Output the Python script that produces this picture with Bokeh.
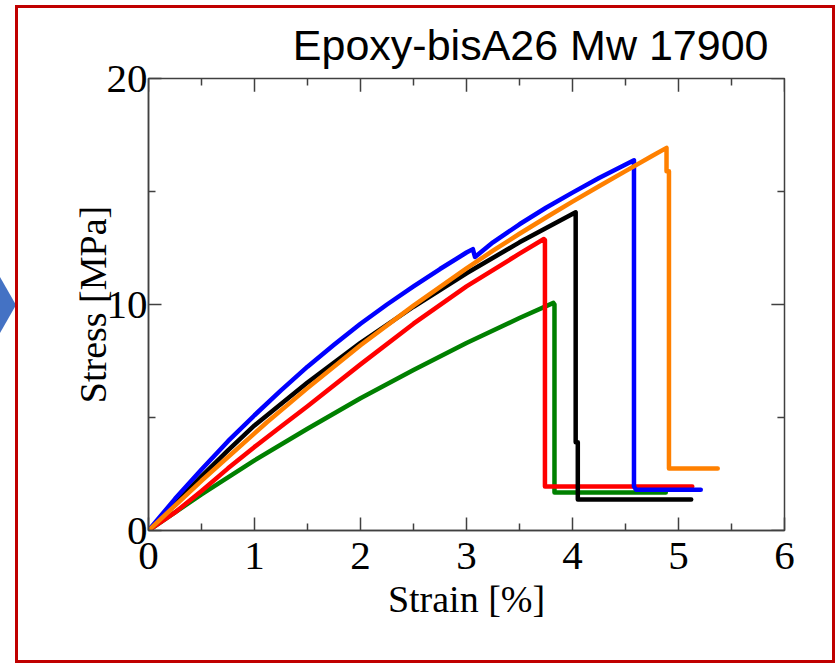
from bokeh.plotting import figure
from bokeh.models import FixedTicker, Range1d, Div
from bokeh.layouts import row
from bokeh.embed import file_html
from bokeh.resources import INLINE

# ---------------- data ----------------
title_text = "Epoxy-bisA26 Mw 17900"
x_label = "Strain [%]"
y_label = "Stress [MPa]"
x_ticks = [0, 1, 2, 3, 4, 5, 6]
x_minor = [0.5, 1.5, 2.5, 3.5, 4.5, 5.5]
y_ticks = [0, 10, 20]
y_minor = [5, 15]

green_x = [0, 0.5, 1.0, 1.5, 2.0, 2.5, 3.0, 3.5, 3.82, 3.83, 3.83, 4.88]
green_y = [0, 1.6, 3.1, 4.5, 5.85, 7.1, 8.3, 9.4, 10.07, 10.0, 1.68, 1.68]

red_x = [0, 0.25, 0.5, 0.75, 1.0, 1.25, 1.5, 2.0, 2.5, 3.0, 3.5, 3.73, 3.74, 3.74, 5.13]
red_y = [0, 0.8, 1.75, 2.75, 3.7, 4.6, 5.5, 7.35, 9.15, 10.8, 12.25, 12.9, 12.85, 1.95, 1.95]

black_x = [0, 0.25, 0.5, 0.75, 1.0, 1.5, 2.0, 2.5, 3.0, 3.5, 4.03, 4.03, 4.05, 4.05, 5.12]
black_y = [0, 1.2, 2.4, 3.55, 4.65, 6.55, 8.3, 9.9, 11.38, 12.75, 14.08, 3.9, 3.9, 1.37, 1.37]

blue_x = [0, 0.25, 0.5, 0.75, 1.0, 1.25, 1.5, 1.75, 2.0, 2.25, 2.5, 2.75, 3.0, 3.06,
          3.08, 3.25, 3.5, 3.75, 4.0, 4.25, 4.58, 4.58, 4.6, 5.21]
blue_y = [0, 1.4, 2.7, 3.95, 5.1, 6.2, 7.25, 8.22, 9.15, 10.0, 10.8, 11.57, 12.3, 12.45,
          12.1, 12.75, 13.55, 14.28, 14.95, 15.6, 16.38, 1.95, 1.8, 1.8]

orange_x = [0, 0.5, 1.0, 1.12, 1.5, 2.0, 2.5, 3.0, 3.25, 3.5, 3.75, 4.0, 4.25, 4.5, 4.75,
            4.887, 4.887, 4.91, 4.91, 5.37]
orange_y = [0, 2.2, 4.3, 4.8, 6.3, 8.2, 9.95, 11.6, 12.38, 13.13, 13.85, 14.55, 15.23, 15.9, 16.57,
            16.93, 15.9, 15.9, 2.74, 2.74]

series = [
    (green_x, green_y, "#008000"),
    (red_x, red_y, "#ff0000"),
    (black_x, black_y, "#000000"),
    (blue_x, blue_y, "#0000ff"),
    (orange_x, orange_y, "#ff8000"),
]

# ---------------- figure ----------------
CANVAS_W, CANVAS_H = 814, 650
FRAME_L, FRAME_T, FRAME_W, FRAME_H = 130, 68, 630, 446
X0, X1, Y0, Y1 = 0, 6, 0, 20
AXIS_COLOR = "#404040"

p = figure(frame_width=FRAME_W, frame_height=FRAME_H,
           min_border_left=FRAME_L, min_border_right=CANVAS_W - FRAME_L - FRAME_W,
           min_border_top=FRAME_T, min_border_bottom=CANVAS_H - FRAME_T - FRAME_H,
           x_range=Range1d(X0, X1), y_range=Range1d(Y0, Y1),
           output_backend="svg", toolbar_location=None)
p.background_fill_color = "white"
p.border_fill_color = "white"
p.grid.visible = False
p.outline_line_color = AXIS_COLOR
p.outline_line_width = 1.5
p.margin = (5, 0, 0, 0)
p.styles = {"border": "3px solid #c00000"}

# title (top right, above the frame)
p.title.text = title_text
p.title.align = "right"
p.title.offset = 16
p.title.text_font = "Liberation Sans"
p.title.text_font_size = "43px"
p.title.text_font_style = "normal"
p.title.text_color = "black"
p.title.standoff = 20


def style_axis(ax, ticks, minor):
    ax.ticker = FixedTicker(ticks=ticks, minor_ticks=minor)
    ax.axis_line_color = AXIS_COLOR
    ax.axis_line_width = 1.5
    ax.major_tick_in = 13
    ax.major_tick_out = 0
    ax.minor_tick_in = 7
    ax.minor_tick_out = 0
    ax.major_tick_line_color = AXIS_COLOR
    ax.minor_tick_line_color = AXIS_COLOR
    ax.major_tick_line_width = 1.5
    ax.minor_tick_line_width = 1.5
    ax.major_label_text_font = "Liberation Serif"
    ax.major_label_text_font_size = "41px"
    ax.major_label_text_color = "black"
    ax.axis_label_text_font = "Liberation Serif"
    ax.axis_label_text_font_size = "38px"
    ax.axis_label_text_font_style = "normal"
    ax.axis_label_text_color = "black"


style_axis(p.xaxis[0], x_ticks, x_minor)
style_axis(p.yaxis[0], y_ticks, y_minor)
p.xaxis[0].axis_label = x_label
p.yaxis[0].axis_label = y_label
p.xaxis[0].major_label_standoff = 12
p.xaxis[0].axis_label_standoff = 6
p.yaxis[0].major_label_standoff = 1
p.yaxis[0].axis_label_standoff = -10

# mirrored inside ticks on top and right edges
maj_dy = 13 * (Y1 - Y0) / FRAME_H
min_dy = 7 * (Y1 - Y0) / FRAME_H
maj_dx = 13 * (X1 - X0) / FRAME_W
min_dx = 7 * (X1 - X0) / FRAME_W
p.segment(x0=x_ticks, x1=x_ticks, y0=[Y1] * len(x_ticks), y1=[Y1 - maj_dy] * len(x_ticks),
          line_color=AXIS_COLOR, line_width=1.5)
p.segment(x0=x_minor, x1=x_minor, y0=[Y1] * len(x_minor), y1=[Y1 - min_dy] * len(x_minor),
          line_color=AXIS_COLOR, line_width=1.5)
p.segment(x0=[X1] * len(y_ticks), x1=[X1 - maj_dx] * len(y_ticks), y0=y_ticks, y1=y_ticks,
          line_color=AXIS_COLOR, line_width=1.5)
p.segment(x0=[X1] * len(y_minor), x1=[X1 - min_dx] * len(y_minor), y0=y_minor, y1=y_minor,
          line_color=AXIS_COLOR, line_width=1.5)

for xs, ys, c in series:
    p.line(xs, ys, line_color=c, line_width=4.5, line_join="round", line_cap="round")

# blue slide arrow peeking in at the left edge
arrow = Div(width=15, height=664, margin=(0, 0, 0, 0),
            text='<div style="width:0;height:0;margin-top:277px;'
                 'border-top:28px solid transparent;border-bottom:28px solid transparent;'
                 'border-left:16px solid #4472c4;"></div>')

layout = row(arrow, p)
open("out.html", "w").write(file_html(layout, INLINE))
